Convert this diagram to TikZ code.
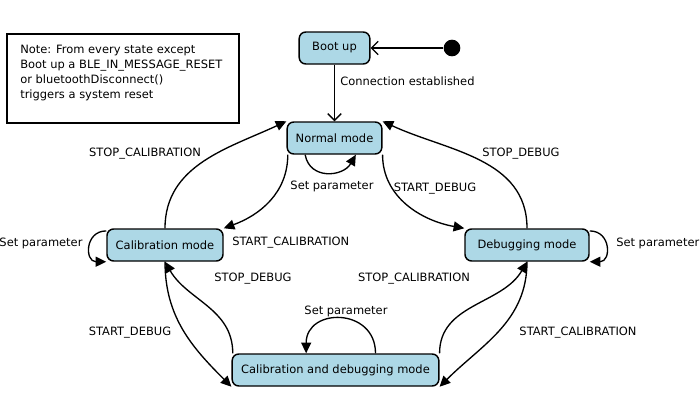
\documentclass[tikz,border=0pt]{standalone}
\usepackage{fontspec}
\setmainfont{DejaVu Sans}
\usetikzlibrary{arrows.meta}
\definecolor{statefill}{RGB}{173,216,230}
\tikzset{
  state/.style={draw, line width=1.1pt, fill=statefill, rounded corners=5pt,
    minimum height=24pt, inner xsep=3pt, font=\fontsize{8.6pt}{10pt}\selectfont},
  trans/.style={line width=1pt, -{Triangle[length=8pt,width=7.5pt]}},
  start/.style={line width=1pt, -{Straight Barb[length=5pt,width=10pt,line width=1pt]}},
  lbl/.style={font=\fontsize{8.6pt}{10pt}\selectfont, inner sep=0pt}
}
\begin{document}
\begin{tikzpicture}[x=0.75pt, y=0.75pt]
  \useasboundingbox (0,0) rectangle (700,-400);
  % Note about the system reset
  \draw[line width=1pt] (7,-34) rectangle (239,-123);
  \node[anchor=north west, align=left, inner sep=0pt,
    font=\fontsize{8.6pt}{11.25pt}\selectfont] (note) at (20,-45)
    {Note: From every state except\\Boot up a BLE\_IN\_MESSAGE\_RESET\\or bluetoothDisconnect()\\triggers a system reset};
  % States
  \node[state, minimum width=53pt] (boot) at (334.5,-48) {Boot up};
  \node[fill, circle, inner sep=0pt, minimum size=12.5pt] (init) at (452,-48) {};
  \node[state, minimum width=71pt] (normal) at (334.5,-138) {Normal mode};
  \node[state, minimum width=87pt] (calib) at (165,-245) {Calibration mode};
  \node[state, minimum width=93pt] (debug) at (527,-245) {Debugging mode};
  \node[state, minimum width=155pt] (both) at (335.5,-370) {Calibration and debugging mode};
  % Start and boot transitions
  \draw[start] (init) -- (boot);
  \draw[start] (boot) -- (normal);
  \node[lbl, anchor=west] (lconn) at (340,-81) {Connection established};
  % Normal mode
  \draw[trans] ([xshift=-22pt]normal.south) to[out=-80, in=-120, looseness=1.3] ([xshift=16pt]normal.south);
  \node[lbl] (lsetn) at (332,-186) {Set parameter};
  \draw[trans] (calib.north) to[out=90, in=205] (normal.north west);
  \node[lbl] (lstopc1) at (145,-154) {STOP\_CALIBRATION};
  \draw[trans] ([xshift=1pt]normal.south west) to[out=-90, in=20] (calib.north east);
  \node[lbl, anchor=west] (lstartc1) at (232,-243) {START\_CALIBRATION};
  \draw[trans] (normal.south east) to[out=-90, in=170] (debug.north west);
  \node[lbl] (lstartd1) at (435,-189) {START\_DEBUG};
  \draw[trans] (debug.north) to[out=90, in=-25] (normal.north east);
  \node[lbl] (lstopd1) at (521,-154) {STOP\_DEBUG};
  % Calibration mode
  \draw[trans] ([yshift=-2pt]calib.north west) to[out=180, in=180, looseness=1.8] (calib.south west);
  \node[lbl] (lsetc) at (41,-243) {Set parameter};
  \draw[trans] (calib.south) to[out=-90, in=135] (both.south west);
  \node[lbl] (lstartd2) at (130,-333) {START\_DEBUG};
  \draw[trans] ([xshift=1pt]both.north west) to[out=90, in=-60] (calib.south);
  \node[lbl] (lstopd2) at (253,-279) {STOP\_DEBUG};
  % Debugging mode
  \draw[trans] ([yshift=-2pt]debug.north east) to[out=0, in=0, looseness=1.8] (debug.south east);
  \node[lbl, anchor=west] (lsetd) at (616,-243) {Set parameter};
  \draw[trans] (both.north east) to[out=90, in=-120] (debug.south);
  \node[lbl] (lstopc2) at (414,-279) {STOP\_CALIBRATION};
  \draw[trans] (debug.south) to[out=-90, in=45] (both.south east);
  \node[lbl] (lstartc2) at (578,-333) {START\_CALIBRATION};
  % Calibration and debugging mode
  \draw[trans] ([xshift=30pt]both.north) to[out=90, in=90, looseness=1.7] ([xshift=-22pt]both.north);
  \node[lbl] (lsetb) at (346,-311) {Set parameter};
\end{tikzpicture}
\end{document}
